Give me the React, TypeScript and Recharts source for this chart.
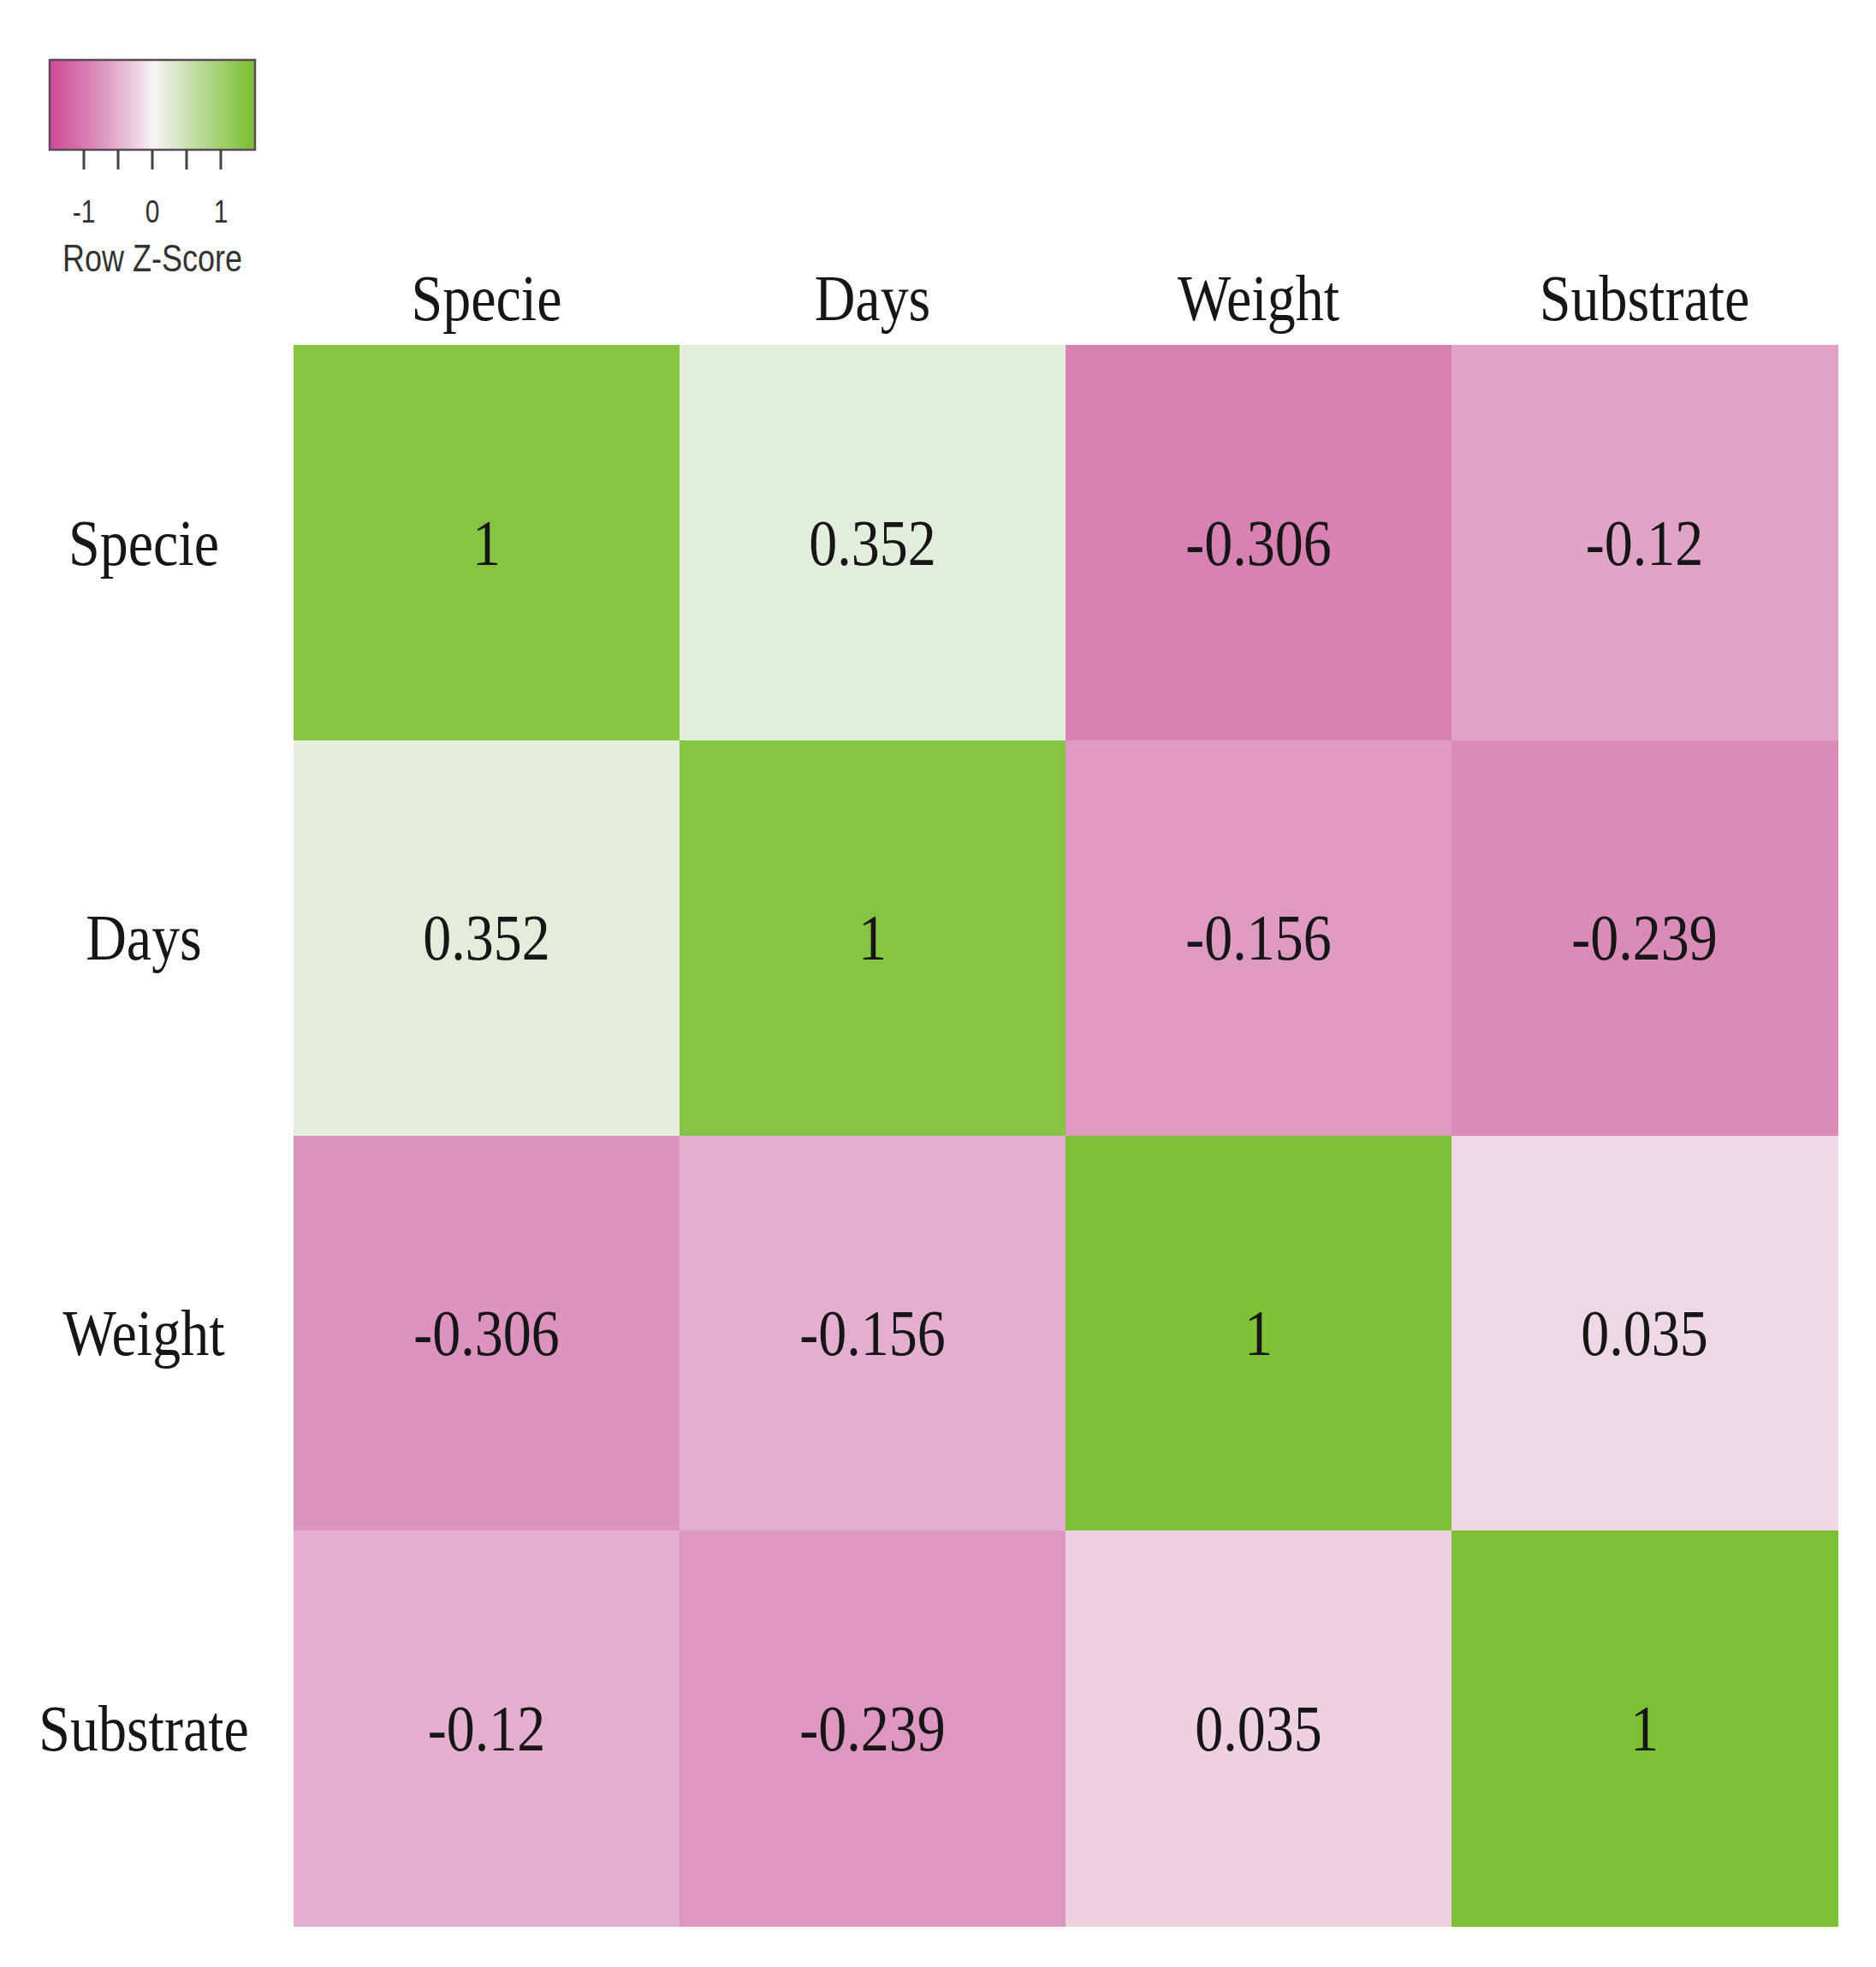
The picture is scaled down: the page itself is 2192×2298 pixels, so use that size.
import React from 'react';
import { ScatterChart, Scatter, XAxis, YAxis } from 'recharts';

// correlation matrix, one array per row
const labels = ['Specie', 'Days', 'Weight', 'Substrate'];
const specieRow = [1, 0.352, -0.306, -0.12];
const daysRow = [0.352, 1, -0.156, -0.239];
const weightRow = [-0.306, -0.156, 1, 0.035];
const substrateRow = [-0.12, -0.239, 0.035, 1];
const matrix = [specieRow, daysRow, weightRow, substrateRow];

// legend ticks (Row Z-Score)
const legendTicks = [-1, -0.5, 0, 0.5, 1];
const legendLabels = [-1, 0, 1];

// colour ramp on the row z-score
const colorStops: [number, string][] = [
  [-1.5, '#D0489A'],
  [-0.9, '#D884B4'],
  [-0.55, '#E3AACB'],
  [-0.2, '#EED6E4'],
  [0, '#F6F3F5'],
  [0.2, '#E4EDDC'],
  [1.33, '#86C443'],
  [1.5, '#7AC030'],
];

const W = 2192;
const H = 2298;
const M = { top: 253, right: 45, bottom: 48, left: 0 };
const X_AXIS_H = 150;
const Y_AXIS_W = 343;
const CELL_W = (W - M.left - Y_AXIS_W - M.right) / labels.length;
const CELL_H = (H - M.top - X_AXIS_H - M.bottom) / labels.length;
const SERIF = '"Liberation Serif", "Times New Roman", serif';
const SANS = '"Liberation Sans", Arial, sans-serif';
const STRETCH = 1.15;

const hex = (h: string) => [1, 3, 5].map((i) => parseInt(h.slice(i, i + 2), 16));

function rampColor(z: number) {
  if (z <= colorStops[0][0]) return colorStops[0][1];
  for (let i = 1; i < colorStops.length; i++) {
    const [z1, c1] = colorStops[i];
    if (z <= z1) {
      const [z0, c0] = colorStops[i - 1];
      const t = (z - z0) / (z1 - z0);
      const a = hex(c0);
      const b = hex(c1);
      const rgb = a.map((v, k) => Math.round(v + (b[k] - v) * t));
      return `rgb(${rgb.join(',')})`;
    }
  }
  return colorStops[colorStops.length - 1][1];
}

// row-scaled z-scores, like heatmap.2(scale = "row")
function rowZ(row: number[]) {
  const mean = row.reduce((s, v) => s + v, 0) / row.length;
  const sd = Math.sqrt(row.reduce((s, v) => s + (v - mean) ** 2, 0) / (row.length - 1));
  return row.map((v) => (v - mean) / sd);
}

const cells = matrix.flatMap((row, r) => {
  const z = rowZ(row);
  return row.map((value, c) => ({ x: c, y: r, value, fill: rampColor(z[c]) }));
});

const HeatCell = (props: any) => {
  const { cx, cy, payload } = props;
  if (cx == null || cy == null) return null;
  return (
    <g>
      <rect
        x={cx - CELL_W / 2}
        y={cy - CELL_H / 2}
        width={CELL_W + 1}
        height={CELL_H + 1}
        fill={payload.fill}
        shapeRendering="crispEdges"
      />
      <g transform={`translate(${cx},${cy}) scale(1,${STRETCH})`}>
        <text x={0} y={0} dy="0.34em" textAnchor="middle" fontFamily={SERIF} fontSize={66} fill="#161616">
          {String(payload.value)}
        </text>
      </g>
    </g>
  );
};

const ColTick = ({ x, payload }: any) => (
  <g transform={`translate(${x},348) scale(1,${STRETCH})`}>
    <text x={0} y={0} dy="0.34em" textAnchor="middle" fontFamily={SERIF} fontSize={66} fill="#161616">
      {labels[payload.value]}
    </text>
  </g>
);

const RowTick = ({ y, payload }: any) => (
  <g transform={`translate(168,${y}) scale(1,${STRETCH})`}>
    <text x={0} y={0} dy="0.34em" textAnchor="middle" fontFamily={SERIF} fontSize={66} fill="#161616">
      {labels[payload.value]}
    </text>
  </g>
);

function ColorKey() {
  const x0 = 58;
  const x1 = 298;
  const unit = (x1 - x0) / 3; // -1.5 .. 1.5
  const toX = (v: number) => x0 + (v + 1.5) * unit;
  return (
    <svg width={340} height={340} style={{ position: 'absolute', left: 0, top: 0 }}>
      <defs>
        <linearGradient id="zkey" x1="0" x2="1" y1="0" y2="0">
          {colorStops.map(([z, c]) => (
            <stop key={z} offset={(z + 1.5) / 3} stopColor={c} />
          ))}
        </linearGradient>
      </defs>
      <rect x={x0} y={70} width={x1 - x0} height={105} fill="url(#zkey)" stroke="#5a4a55" strokeWidth={2.5} />
      {legendTicks.map((t) => (
        <line key={t} x1={toX(t)} x2={toX(t)} y1={175} y2={198} stroke="#444" strokeWidth={3} />
      ))}
      {legendLabels.map((t) => (
        <g key={t} transform={`translate(${toX(t)},247) scale(1,1.2)`}>
          <text x={0} y={0} dy="0.36em" textAnchor="middle" fontFamily={SANS} fontSize={30} fill="#333">
            {t}
          </text>
        </g>
      ))}
      <g transform={`translate(178,301) scale(1,1.22)`}>
        <text x={0} y={0} dy="0.36em" textAnchor="middle" fontFamily={SANS} fontSize={36} fill="#333">
          Row Z-Score
        </text>
      </g>
    </svg>
  );
}

export default function App() {
  return (
    <div style={{ position: 'absolute', left: 0, top: 0, width: W, height: H, background: '#fff' }}>
      <ScatterChart width={W} height={H} margin={M}>
        <XAxis
          type="number"
          dataKey="x"
          orientation="top"
          domain={[-0.5, 3.5]}
          ticks={[0, 1, 2, 3]}
          height={X_AXIS_H}
          axisLine={false}
          tickLine={false}
          tick={<ColTick />}
          interval={0}
        />
        <YAxis
          type="number"
          dataKey="y"
          reversed
          domain={[-0.5, 3.5]}
          ticks={[0, 1, 2, 3]}
          width={Y_AXIS_W}
          axisLine={false}
          tickLine={false}
          tick={<RowTick />}
          interval={0}
        />
        <Scatter data={cells} shape={(p: any) => <HeatCell {...p} />} isAnimationActive={false} />
      </ScatterChart>
      <ColorKey />
    </div>
  );
}
